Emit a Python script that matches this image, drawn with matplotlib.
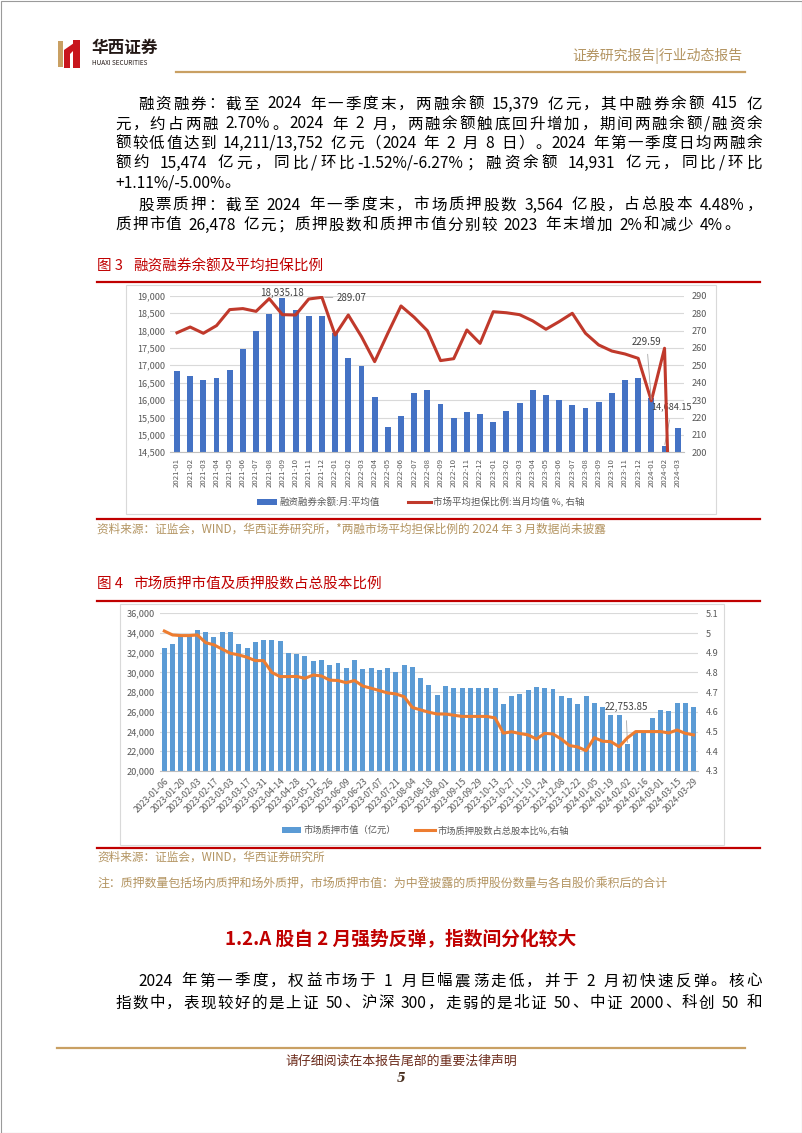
import numpy as np
import matplotlib
matplotlib.use('Agg')
import matplotlib.pyplot as plt
from matplotlib.patches import Rectangle, Polygon
from matplotlib.lines import Line2D
from matplotlib.ticker import FuncFormatter

plt.rcParams['font.family'] = ['Noto Sans CJK SC', 'DejaVu Sans']

# ---------------- data: figure 3 ----------------
months = ['2021-01', '2021-02', '2021-03', '2021-04', '2021-05', '2021-06', '2021-07', '2021-08',
          '2021-09', '2021-10', '2021-11', '2021-12', '2022-01', '2022-02', '2022-03', '2022-04',
          '2022-05', '2022-06', '2022-07', '2022-08', '2022-09', '2022-10', '2022-11', '2022-12',
          '2023-01', '2023-02', '2023-03', '2023-04', '2023-05', '2023-06', '2023-07', '2023-08',
          '2023-09', '2023-10', '2023-11', '2023-12', '2024-01', '2024-02', '2024-03']
margin_balance = [16850, 16700, 16570, 16630, 16870, 17470, 18000, 18480,
                  18935.18, 18580, 18420, 18410, 17920, 17200, 16980, 16100,
                  15230, 15550, 16200, 16300, 15890, 15490, 15670, 15590,
                  15370, 15700, 15920, 16290, 16140, 16010, 15850, 15770,
                  15940, 16200, 16580, 16630, 16050, 14684.15, 15200]
# 2024-03 not yet disclosed -> plotted as 0 (drops out of the axis)
guarantee_ratio = [268.7, 272.0, 268.4, 272.8, 282.0, 282.6, 281.0, 288.3,
                   279.1, 278.9, 288.1, 289.07, 267.4, 278.9, 266.5, 252.1,
                   268.4, 284.1, 277.6, 269.9, 252.7, 253.8, 270.3, 262.6,
                   280.8, 280.2, 279.1, 275.5, 270.7, 275.1, 279.9, 268.4,
                   261.7, 258.2, 256.5, 254.0, 229.59, 259.8, 0]

# ---------------- data: figure 4 (weekly) ----------------
week_labels = ['2023-01-06', '2023-01-20', '2023-02-03', '2023-02-17', '2023-03-03', '2023-03-17',
               '2023-03-31', '2023-04-14', '2023-04-28', '2023-05-12', '2023-05-26', '2023-06-09',
               '2023-06-23', '2023-07-07', '2023-07-21', '2023-08-04', '2023-08-18', '2023-09-01',
               '2023-09-15', '2023-09-29', '2023-10-13', '2023-10-27', '2023-11-10', '2023-11-24',
               '2023-12-08', '2023-12-22', '2024-01-05', '2024-01-19', '2024-02-02', '2024-02-16',
               '2024-03-01', '2024-03-15', '2024-03-29']
pledge_value = [32520, 32860, 33740, 33800, 34350, 34150, 33600, 34080, 34080, 32860,
                32520, 33130, 33270, 33270, 33230, 32010, 31910, 31670, 31165, 31265,
                30760, 30925, 30420, 31230, 30330, 30490, 30200, 30440, 30000, 30730,
                30520, 29470, 28730, 27730, 28590, 28390, 28390, 28390, 28390, 28390,
                28390, 26800, 27645, 27830, 28190, 28490, 28457, 28290, 27645, 27390,
                26765, 27560, 26937, 26515, 25685, 25685, 22753.85, 23950, 23990, 25350,
                26190, 26060, 26870, 26870, 26478]
pledge_ratio = [5.01, 4.99, 4.987, 4.987, 4.99, 4.951, 4.94, 4.918, 4.897, 4.889,
                4.877, 4.86, 4.86, 4.80, 4.779, 4.779, 4.78, 4.77, 4.787, 4.782,
                4.761, 4.759, 4.748, 4.759, 4.731, 4.72, 4.708, 4.696, 4.691, 4.677,
                4.622, 4.61, 4.598, 4.589, 4.589, 4.583, 4.577, 4.577, 4.577, 4.577,
                4.569, 4.492, 4.499, 4.49, 4.483, 4.462, 4.491, 4.488, 4.462, 4.429,
                4.422, 4.403, 4.469, 4.451, 4.449, 4.423, 4.468, 4.50, 4.50, 4.50,
                4.50, 4.493, 4.508, 4.491, 4.483]

# ---------------- figure ----------------
W, H = 802, 1133
fig = plt.figure(figsize=(W / 100, H / 100), dpi=100)
renderer = fig.canvas.get_renderer()

RED = '#C00000'
GOLD = '#B39461'
GRAY = '#595959'


def fxy(x, y):
    return (x / W, 1 - y / H)


def add_rect(l, t, r, b, **kw):
    fig.add_artist(Rectangle(fxy(l, b), (r - l) / W, (b - t) / H,
                             transform=fig.transFigure, **kw))


def add_line(x0, y0, x1, y1, **kw):
    fig.add_artist(Line2D([x0 / W, x1 / W], [1 - y0 / H, 1 - y1 / H],
                          transform=fig.transFigure, **kw))


def T(x, y, s, **kw):
    kw.setdefault('va', 'center')
    return fig.text(x / W, 1 - y / H, s, **kw)


def tokens_of(s):
    toks, run = [], ''
    for ch in s:
        if ord(ch) < 128 and ch != ' ':
            run += ch
        else:
            if run:
                toks.append(run)
                run = ''
            toks.append(ch)
    if run:
        toks.append(run)
    return toks


def tok_w(t, size, weight):
    em = size * 100 / 72
    if t == ' ':
        return em * 0.28
    if len(t) == 1 and ord(t) > 0x2E80:
        return em
    tt = fig.text(0, 0, t, fontsize=size, weight=weight)
    w = tt.get_window_extent(renderer).width
    tt.remove()
    return w


def jtext(x0, x1, y, s, size=11.2, color='black', weight='normal', justify=True):
    toks = tokens_of(s)
    ws = [tok_w(t, size, weight) for t in toks]
    gap = 0.0
    if justify and len(toks) > 1:
        gap = (x1 - x0 - sum(ws)) / (len(toks) - 1)
    x = x0
    for t, w in zip(toks, ws):
        if t != ' ':
            T(x, y, t, fontsize=size, color=color, weight=weight, ha='left')
        x += w + gap


# page border
add_rect(0.5, 0.5, W - 0.5, H - 0.5, fill=False, edgecolor='#9A9A9A', lw=0.8)

# ---------------- header ----------------
add_rect(58, 41, 63, 67, color='#C9A063', lw=0)
add_rect(64, 50, 70, 68, color='#C8161D', lw=0)
fig.add_artist(Polygon([fxy(64, 50), fxy(74, 43), fxy(74, 50), fxy(70, 54)],
                       closed=True, transform=fig.transFigure, color='#C8161D', lw=0))
add_rect(73, 40, 80, 68, color='#C8161D', lw=0)
T(92, 48, '华西证券', fontsize=12, weight='bold', color='#231815', ha='left')
T(92, 63, 'HUAXI SECURITIES', fontsize=4.6, color='#231815', ha='left')
T(742, 56, '证券研究报告|行业动态报告', fontsize=10, color=GOLD, ha='right')
add_line(176, 72, 745, 72, color='#C9A063', lw=1.6)

# ---------------- top paragraphs ----------------
L, R = 115, 762
jtext(138, R, 104, '融资融券：截至 2024 年一季度末，两融余额 15,379 亿元，其中融券余额 415 亿')
jtext(L, R, 124, '元，约占两融 2.70%。2024 年 2 月，两融余额触底回升增加，期间两融余额/融资余')
jtext(L, R, 143.5, '额较低值达到 14,211/13,752 亿元（2024 年 2 月 8 日）。2024 年第一季度日均两融余')
jtext(L, R, 163, '额约 15,474 亿元，同比/环比-1.52%/-6.27%；融资余额 14,931 亿元，同比/环比')
jtext(L, R, 182.5, '+1.11%/-5.00%。', justify=False)
jtext(138, R, 205, '股票质押：截至 2024 年一季度末，市场质押股数 3,564 亿股，占总股本 4.48%，')
jtext(L, 740, 225, '质押市值 26,478 亿元；质押股数和质押市值分别较 2023 年末增加 2%和减少 4%。')

# ---------------- figure 3 ----------------
T(97, 266, '图 3', fontsize=10.5, color=RED, ha='left')
T(133, 266, '融资融券余额及平均担保比例', fontsize=10.5, color=RED, ha='left')
add_line(97, 282, 760, 282, color=RED, lw=1.6)
add_rect(126, 285, 716, 514, fill=False, edgecolor='#D9D9D9', lw=0.8)
add_line(97, 519.5, 760, 519.5, color=RED, lw=1.6)

ax1 = fig.add_axes([170.4 / W, 1 - 452.3 / H, (684.3 - 170.4) / W, (452.3 - 295.7) / H])
x1 = np.arange(len(months))
ax1.bar(x1, margin_balance, width=0.45, color='#4472C4', zorder=2)
ax1.set_xlim(-0.5, len(months) - 0.5)
ax1.set_ylim(14500, 19000)
ax1.set_yticks(np.arange(14500, 19001, 500))
ax1.yaxis.set_major_formatter(FuncFormatter(lambda v, p: f'{v:,.0f}'))
ax1.grid(axis='y', color='#D9D9D9', lw=0.8)
ax1.set_axisbelow(True)
for s in ['top', 'right', 'left']:
    ax1.spines[s].set_visible(False)
ax1.spines['bottom'].set_color('#BFBFBF')
ax1.set_xticks(x1)
ax1.set_xticklabels(months, rotation=90)
ax1.tick_params(axis='x', length=0, pad=4, labelsize=5.6, labelcolor=GRAY)
ax1.tick_params(axis='y', length=0, pad=4, labelsize=6.6, labelcolor=GRAY)

ax1r = ax1.twinx()
ax1r.plot(x1, guarantee_ratio, color='#C0392B', lw=2.2, solid_joinstyle='round')
ax1r.set_ylim(200, 290)
ax1r.set_yticks(np.arange(200, 291, 10))
for s in ax1r.spines.values():
    s.set_visible(False)
ax1r.tick_params(axis='y', length=0, pad=5, labelsize=6.6, labelcolor=GRAY)

ann_kw = dict(textcoords='figure pixels', fontsize=7, color='#404040', annotation_clip=False)
ax1.annotate('18,935.18', xy=(8, margin_balance[8]), xytext=(282.4, H - 292.5),
             ha='center', va='center', **ann_kw)
ax1r.annotate('289.07', xy=(11, guarantee_ratio[11]), xytext=(337, H - 297.7),
              ha='left', va='center',
              arrowprops=dict(arrowstyle='-', color='#A6A6A6', lw=0.6, shrinkA=1, shrinkB=2), **ann_kw)
ax1r.annotate('229.59', xy=(36, guarantee_ratio[36]), xytext=(646.7, H - 342.3),
              ha='center', va='center',
              arrowprops=dict(arrowstyle='-', color='#A6A6A6', lw=0.6, shrinkA=3, shrinkB=1), **ann_kw)
ax1.annotate('14,684.15', xy=(37, margin_balance[37]), xytext=(672, H - 407),
             ha='center', va='center',
             arrowprops=dict(arrowstyle='-', color='#A6A6A6', lw=0.6, shrinkA=4, shrinkB=1),
             **{**ann_kw, 'fontsize': 6.6})

# legend 1
add_rect(257, 499, 277, 505, color='#4472C4', lw=0)
T(280, 502, '融资融券余额:月:平均值', fontsize=6.8, color=GRAY, ha='left')
add_line(408, 502, 431, 502, color='#C0392B', lw=2.2)
T(433, 502, '市场平均担保比例:当月均值 %, 右轴', fontsize=6.8, color=GRAY, ha='left')

T(97, 529, '资料来源：证监会，WIND，华西证券研究所，*两融市场平均担保比例的 2024 年 3 月数据尚未披露',
  fontsize=8.4, color=GOLD, ha='left')

# ---------------- figure 4 ----------------
T(97, 584, '图 4', fontsize=10.5, color=RED, ha='left')
T(133, 584, '市场质押市值及质押股数占总股本比例', fontsize=10.5, color=RED, ha='left')
add_line(97, 601, 760, 601, color=RED, lw=1.6)
add_rect(120, 604, 724, 845, fill=False, edgecolor='#D9D9D9', lw=0.8)
add_line(97, 847.5, 760, 847.5, color=RED, lw=1.6)

ax2 = fig.add_axes([160.2 / W, 1 - 771 / H, (697.7 - 160.2) / W, (771 - 613.3) / H])
x2 = np.arange(len(pledge_value))
ax2.bar(x2, pledge_value, width=0.6, color='#5B9BD5', zorder=2)
ax2.set_xlim(-0.5, len(pledge_value) - 0.5)
ax2.set_ylim(20000, 36000)
ax2.set_yticks(np.arange(20000, 36001, 2000))
ax2.yaxis.set_major_formatter(FuncFormatter(lambda v, p: f'{v:,.0f}'))
ax2.grid(axis='y', color='#D9D9D9', lw=0.8)
ax2.set_axisbelow(True)
for s in ['top', 'right', 'left']:
    ax2.spines[s].set_visible(False)
ax2.spines['bottom'].set_color('#BFBFBF')
ax2.set_xticks(x2[::2])
ax2.set_xticklabels(week_labels, rotation=45, ha='right', rotation_mode='anchor')
ax2.tick_params(axis='x', length=0, pad=4, labelsize=6.3, labelcolor=GRAY)
ax2.tick_params(axis='y', length=0, pad=4, labelsize=6.6, labelcolor=GRAY)

ax2r = ax2.twinx()
ax2r.plot(x2, pledge_ratio, color='#ED7D31', lw=2.2, solid_joinstyle='round')
ax2r.set_ylim(4.3, 5.1)
ax2r.set_yticks(np.arange(4.3, 5.1001, 0.1))
ax2r.yaxis.set_major_formatter(FuncFormatter(lambda v, p: f'{round(v, 1):g}'))
for s in ax2r.spines.values():
    s.set_visible(False)
ax2r.tick_params(axis='y', length=0, pad=6, labelsize=6.6, labelcolor=GRAY)

ax2.annotate('22,753.85', xy=(56, pledge_value[56]), xytext=(626, H - 707.3),
             ha='center', va='center',
             arrowprops=dict(arrowstyle='-', color='#A6A6A6', lw=0.6, shrinkA=4, shrinkB=1), **ann_kw)

# legend 2
add_rect(282, 827, 301, 833, color='#5B9BD5', lw=0)
T(303, 830, '市场质押市值（亿元）', fontsize=6.7, color=GRAY, ha='left')
add_line(415, 830, 435, 830, color='#ED7D31', lw=2.2)
T(437, 830, '市场质押股数占总股本比%,右轴', fontsize=6.7, color=GRAY, ha='left')

T(97, 857, '资料来源：证监会，WIND，华西证券研究所', fontsize=8.4, color=GOLD, ha='left')
T(97, 884, '注：质押数量包括场内质押和场外质押，市场质押市值：为中登披露的质押股份数量与各自股价乘积后的合计',
  fontsize=8.6, color=GOLD, ha='left')

# ---------------- section heading & paragraph ----------------
T(401, 940, '1.2.A 股自 2 月强势反弹，指数间分化较大', fontsize=13.5, weight='bold', color=RED, ha='center')
jtext(138, R, 981, '2024 年第一季度，权益市场于 1 月巨幅震荡走低，并于 2 月初快速反弹。核心')
jtext(L, R, 1003, '指数中，表现较好的是上证 50、沪深 300，走弱的是北证 50、中证 2000、科创 50 和')

# ---------------- footer ----------------
add_line(57, 1048, 745, 1048, color='#C9A063', lw=1.6)
T(401, 1061, '请仔细阅读在本报告尾部的重要法律声明', fontsize=9.3, color='#6B2A1A', ha='center')
T(401, 1079, '5', fontsize=9, weight='bold', style='italic', color='#4A3020', ha='center',
  family=['DejaVu Serif'])

fig.savefig('out.png', dpi=100)
